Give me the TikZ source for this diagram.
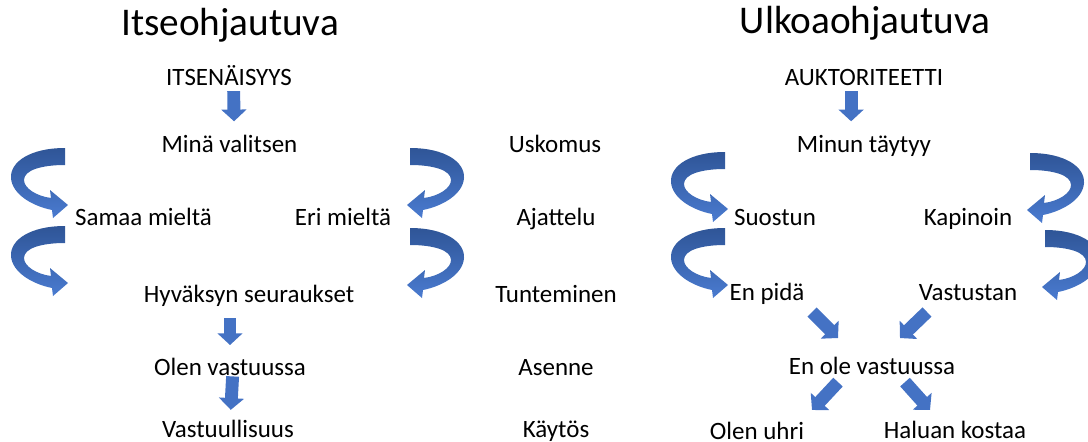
\documentclass[tikz,border=0pt]{standalone}
\usepackage{fontspec}
\setmainfont{Carlito}
\usepackage{tikz}
\usetikzlibrary{arrows.meta}

\definecolor{arrowblue}{HTML}{4472C4}
\definecolor{curldark}{HTML}{2F5597}
\definecolor{curllight}{HTML}{4A7BD0}

\tikzset{
  word/.style={anchor=base, inner sep=0pt, text height=16pt, text depth=5pt,
    font=\fontsize{21.3}{25}\selectfont},
  title/.style={anchor=base, inner sep=0pt, font=\fontsize{33.5}{40}\selectfont},
  bigarrow/.style={draw=arrowblue, line width=11pt, -{Triangle[width=21pt,length=10pt]}},
  curl/.pic={
    \shade[top color=curldark, bottom color=curllight]
      (55,0) .. controls (20,0) and (0,14) .. (1,30)
      .. controls (2,46) and (22,58) .. (42,62) -- (43,70) -- (58,57) -- (40,42) -- (41,50)
      .. controls (26,48) and (14,40) .. (14,32)
      .. controls (14,22) and (32,17) .. (55,17) -- cycle;
  }
}

\begin{document}
\begin{tikzpicture}[x=0.03cm, y=-0.03cm]
  \useasboundingbox (0,0) rectangle (1088,441);
  \clip (0,0) rectangle (1088,441);

  % left column
  \node[title] (itseohj) at (230,35) {Itseohjautuva};
  \node[word] (itsenais) at (229,85) {ITSENÄISYYS};
  \node[word] (mina) at (229.5,152) {Minä valitsen};
  \node[word] (samaa) at (143.5,225) {Samaa mieltä};
  \node[word] (eri) at (343,225) {Eri mieltä};
  \node[word] (hyvaksyn) at (249,302) {Hyväksyn seuraukset};
  \node[word] (olenvast) at (230,375) {Olen vastuussa};
  \node[word] (vastuull) at (228,437) {Vastuullisuus};

  \draw[bigarrow, shorten >=10pt] ([xshift=4]itsenais.south) -- ([xshift=4]mina.north);
  \draw[bigarrow, shorten <=8.5pt, shorten >=9.4pt] (olenvast.north |- hyvaksyn.south) -- (olenvast.north);
  \draw[bigarrow, shorten <=-4pt, shorten >=7pt] ([xshift=2]olenvast.south) -- ([xshift=2]vastuull.north);

  \pic at (10,148) {curl};
  \pic at (10,226) {curl};
  \pic[xscale=-1] at (465,148) {curl};
  \pic[xscale=-1] at (465,228) {curl};

  % middle column
  \node[word] (uskomus) at (555,152) {Uskomus};
  \node[word] (ajattelu) at (556,225) {Ajattelu};
  \node[word] (tunteminen) at (556,302) {Tunteminen};
  \node[word] (asenne) at (556,375) {Asenne};
  \node[word] (kaytos) at (556,437) {Käytös};

  % right column
  \node[title] (ulkoohj) at (865,33) {Ulkoaohjautuva};
  \node[word] (auktor) at (864,85) {AUKTORITEETTI};
  \node[word] (minun) at (864,152) {Minun täytyy};
  \node[word] (suostun) at (775,225) {Suostun};
  \node[word] (kapinoin) at (968,225) {Kapinoin};
  \node[word] (enpida) at (767,300) {En pidä};
  \node[word] (vastustan) at (968,300) {Vastustan};
  \node[word] (eiole) at (872,374) {En ole vastuussa};
  \node[word] (uhri) at (757,439) {Olen uhri};
  \node[word] (kostaa) at (955,438) {Haluan kostaa};

  \draw[bigarrow, shorten >=10pt] ([xshift=-11]auktor.south) -- ([xshift=-11]minun.north);
  \draw[bigarrow] ([shift={(45,12)}]enpida.base) -- ([shift={(-34,-17)}]eiole.north);
  \draw[bigarrow] ([shift={(-41,12)}]vastustan.base) -- ([shift={(28,-17)}]eiole.north);
  \draw[bigarrow] ([shift={(-34,2)}]eiole.south) -- ([shift={(55,-29)}]uhri.base);
  \draw[bigarrow] ([shift={(33,2)}]eiole.south) -- ([shift={(-25,-28)}]kostaa.base);

  \pic at (670,152) {curl};
  \pic at (670,228) {curl};
  \pic[xscale=-1] at (1085,153) {curl};
  \pic[xscale=-1] at (1100,230) {curl};
\end{tikzpicture}
\end{document}
